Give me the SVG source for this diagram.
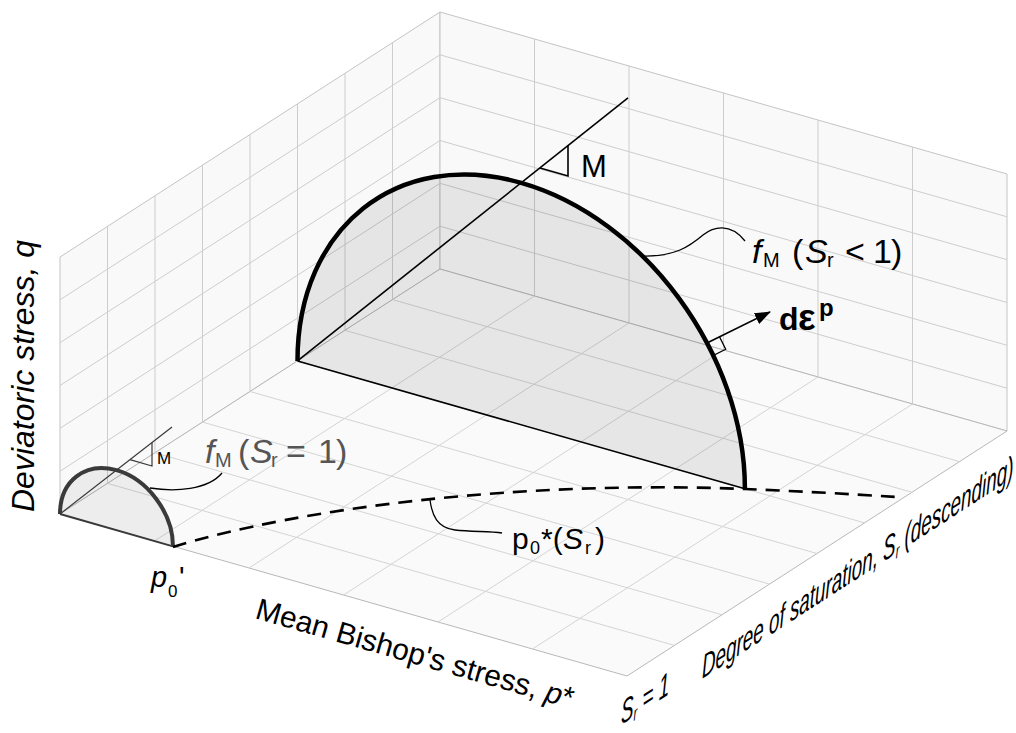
<svg xmlns="http://www.w3.org/2000/svg" width="1016" height="733" viewBox="0 0 1016 733">
<defs>
<style>
.wall{fill:#f9f9f9;stroke:#c4c4c4;stroke-width:1}
.floor{fill:#fafafa;stroke:#b8b8b8;stroke-width:1}
.grid{fill:none;stroke:#cdcdcd;stroke-width:1}
.fgrid{fill:none;stroke:#d4d4d4;stroke-width:1}
.lbl{font-family:"Liberation Sans",Arial,Helvetica,sans-serif;fill:#000}
.it{font-style:italic}
.thin{fill:none;stroke:#000;stroke-width:1.6}
.leader{fill:none;stroke:#000;stroke-width:1.3}
</style>
<marker id="ah" viewBox="0 0 16 12" markerWidth="16" markerHeight="12" refX="15" refY="6" orient="auto" markerUnits="userSpaceOnUse">
<path d="M0,0 L16,6 L0,12 Z" fill="#000"/>
</marker>
</defs>
<rect width="1016" height="733" fill="#fff"/>
<g id="walls">
<polygon class="wall" points="60,514 60,257 440,12 440,269"/>
<polygon class="wall" points="440,12 1007,174 1007,431 440,269"/>
<path class="grid" d="M107.5,483.4V226.4 M155,452.8V195.8 M202.5,422.1V165.1 M250,391.5V134.5 M297.5,360.9V103.9 M345,330.3V73.3 M392.5,299.6V42.6 M60,471.2L440,226.2 M60,428.3L440,183.3 M60,385.5L440,140.5 M60,342.7L440,97.7 M60,299.8L440,54.8"/>
<path class="grid" d="M534.5,39V296 M629,66V323 M723.5,93V350 M818,120V377 M912.5,147V404 M440,226.2L1007,388.2 M440,183.3L1007,345.3 M440,140.5L1007,302.5 M440,97.7L1007,259.7 M440,54.8L1007,216.8"/>
</g>
<g id="floor">
<polygon class="floor" points="60,514 440,269 1007,431 627,676"/>
<path class="fgrid" d="M107.5,483.4L674.5,645.4 M155,452.8L722,614.8 M202.5,422.1L769.5,584.1 M250,391.5L817,553.5 M297.5,360.9L864.5,522.9 M345,330.3L912,492.3 M392.5,299.6L959.5,461.6 M154.5,541L534.5,296 M249,568L629,323 M343.5,595L723.5,350 M438,622L818,377 M532.5,649L912.5,404"/>
</g>
<g id="yield-small">
<path d="M173,546.4 C173,513.2 147.7,479.1 116.5,470.2 C85.3,461.3 60,480.9 60,514 Z" fill="#000" fill-opacity="0.05" stroke="none"/>
<line x1="60" y1="514" x2="173" y2="546.4" stroke="#3a3a3a" stroke-width="2"/>
<line x1="60" y1="514" x2="172" y2="427" stroke="#3a3a3a" stroke-width="1.2"/>
<polyline points="130,459.7 152,466 152,442.6" fill="none" stroke="#3a3a3a" stroke-width="1.2"/>
<path d="M173,546.4 C173,513.2 147.7,479.1 116.5,470.2 C85.3,461.3 60,480.9 60,514" fill="none" stroke="#3a3a3a" stroke-width="4"/>
</g>
<g id="yield-large">
<path d="M744.9,488.7 C744.9,355 644.8,218.1 521.2,182.8 C397.7,147.5 297.5,227.2 297.5,360.9 Z" fill="#000" fill-opacity="0.08" stroke="none"/>
<line class="thin" x1="297.5" y1="360.9" x2="744.9" y2="488.7"/>
<line class="thin" x1="297.5" y1="360.9" x2="628" y2="97.8"/>
<polyline class="thin" points="540,167.9 568,175.9 568,145.6" stroke-width="1.4"/>
<path d="M744.9,488.7 C744.9,355 644.8,218.1 521.2,182.8 C397.7,147.5 297.5,227.2 297.5,360.9" fill="none" stroke="#000" stroke-width="4.5"/>
</g>
<g id="connectors">
<path d="M173,547 C300,508 520,480 745,489 C795,491 850,494 897,497" fill="none" stroke="#000" stroke-width="2.6" stroke-dasharray="14 9"/>
<path class="leader" d="M642,256 C675,257 690,246 703,235 C713,227 730,222 745,241"/>
<path class="leader" d="M150,488 C175,492 208,490 222,473" stroke="#555"/>
<path class="leader" d="M430,500 C432,515 437,528 455,530 C472,532 490,531 502,533"/>
<line x1="707" y1="343" x2="770" y2="312" stroke="#000" stroke-width="1.6" marker-end="url(#ah)"/>
<polyline points="719.5,336.8 725.7,349.3 713.2,355.5" fill="none" stroke="#000" stroke-width="1.3"/>
</g>
<g id="labels">
<text class="lbl" x="581" y="177" font-size="31">M</text>
<text class="lbl" x="157" y="464" font-size="17" fill="#333">M</text>
<text class="lbl" font-size="34" y="263"><tspan class="it" x="752">f</tspan><tspan x="763" y="267" font-size="20">M</tspan><tspan x="792" y="263">(</tspan><tspan class="it" x="805">S</tspan><tspan x="827" y="267" font-size="20">r</tspan><tspan x="845" y="263">&lt;</tspan><tspan x="873">1</tspan><tspan x="891">)</tspan></text>
<text class="lbl" font-size="34" y="463" style="fill:#555"><tspan class="it" x="205">f</tspan><tspan x="215" y="467" font-size="20">M</tspan><tspan x="238" y="463">(</tspan><tspan class="it" x="250">S</tspan><tspan x="271" y="467" font-size="20">r</tspan><tspan x="286" y="463">=</tspan><tspan x="318">1</tspan><tspan x="336">)</tspan></text>
<text class="lbl" font-weight="bold" y="330"><tspan x="779" font-size="32">d</tspan><tspan x="798" font-size="37">ε</tspan><tspan x="819" y="316" font-size="24">p</tspan></text>
<text class="lbl" font-size="30" y="549"><tspan x="512">p</tspan><tspan x="530" y="554" font-size="18">0</tspan><tspan x="541" y="549">*(</tspan><tspan class="it" x="563">S</tspan><tspan x="585" y="554" font-size="18">r</tspan><tspan x="595" y="549">)</tspan></text>
<text class="lbl" font-size="29" y="587"><tspan class="it" x="151">p</tspan><tspan x="168" y="597" font-size="17">0</tspan><tspan x="179" y="587">'</tspan></text>
<text class="lbl it" font-size="32" transform="translate(34,512) rotate(-90)">Deviatoric stress, <tspan>q</tspan></text>
<text class="lbl" font-size="30" transform="translate(254,618) rotate(15.95)">Mean Bishop's stress, <tspan class="it">p</tspan>*</text>
<text class="lbl it" font-size="33" transform="matrix(0.571,-0.369,0,1,702,679)">Degree of saturation, S<tspan font-size="19" dy="5">r</tspan><tspan dy="-5"> (descending)</tspan></text>
<text class="lbl it" font-size="33" transform="matrix(0.571,-0.369,0,1,621,725)">S<tspan font-size="19" dy="4">r</tspan><tspan dy="-4"> = 1</tspan></text>
</g>
</svg>
